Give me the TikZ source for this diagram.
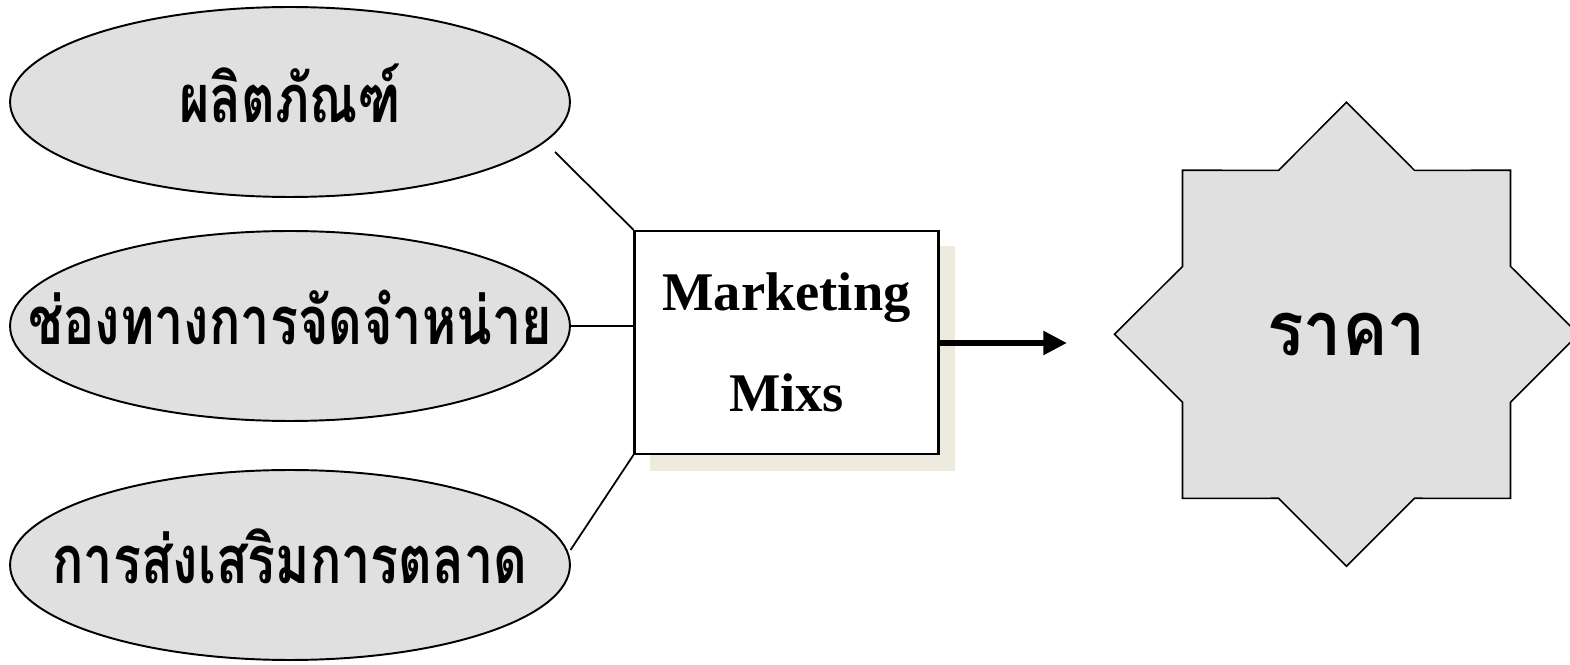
\documentclass[tikz,border=0pt]{standalone}
\usepackage{fontspec}
\setmainfont{Liberation Serif}
\newfontfamily\thaifont[Script=Thai,FakeStretch=0.78]{Loma}
\newfontfamily\thaibigfont[Script=Thai,FakeStretch=0.9]{Loma}
\usetikzlibrary{arrows.meta,shapes.geometric,calc}

\definecolor{shapegray}{RGB}{224,224,224}
\definecolor{shadowbeige}{RGB}{237,234,223}

\tikzset{
  mixitem/.style={ellipse, draw, line width=1.1pt, fill=shapegray,
    minimum width=11.2cm, minimum height=3.8cm, inner sep=0pt},
  itemtext/.style={font=\thaifont\bfseries\fontsize{38}{42}\selectfont, yshift=0.18cm},
  mixbox/.style={rectangle, draw, line width=1.2pt, fill=white,
    minimum width=6.08cm, minimum height=4.46cm, inner sep=0pt, align=center,
    font=\bfseries\fontsize{31}{57.3}\selectfont},
  pricestar/.style={star, star points=8, star point ratio=1.307, draw,
    line width=0.9pt, fill=shapegray, minimum size=9.28cm, inner sep=0pt,
    font=\thaibigfont\bfseries\fontsize{43}{47}\selectfont}
}

\begin{document}
\begin{tikzpicture}[x=0.02cm,y=-0.02cm]
          \useasboundingbox (0,0) rectangle (1570,665);
          \clip (0,0) rectangle (1570,665);

          % the three mix items
          \node[mixitem, label={[itemtext]center:ผลิตภัณฑ์}] (prod) at (290,102) {};
          \node[mixitem, label={[itemtext]center:ช่องทางการจัดจำหน่าย}] (place) at (290,326) {};
          \node[mixitem, label={[itemtext]center:การส่งเสริมการตลาด}] (promo) at (290,565) {};

          % box with its shadow
          \fill[shadowbeige] (650,246) rectangle (955,471);
          \node[mixbox] (mix) at (786.5,342.4) {Marketing\\Mixs};

          % price star
          \node[pricestar] (price) at (1346.5,334.3) {ราคา};

          % connectors
          \coordinate (prodend) at (555,152);
          \coordinate (promoend) at (570.5,550);
          \coordinate (arrowend) at (1067,343);
          \draw[line width=1pt] (prodend) -- (mix.north west);
          \draw[line width=1pt] (place.east) -- (place.east -| mix.west);
          \draw[line width=1pt] (promoend) -- (mix.south west);
          \draw[line width=3.6pt, -{Triangle[length=13.5pt,width=13pt]}] (mix.east |- arrowend) -- (arrowend);
      \end{tikzpicture}
\end{document}
